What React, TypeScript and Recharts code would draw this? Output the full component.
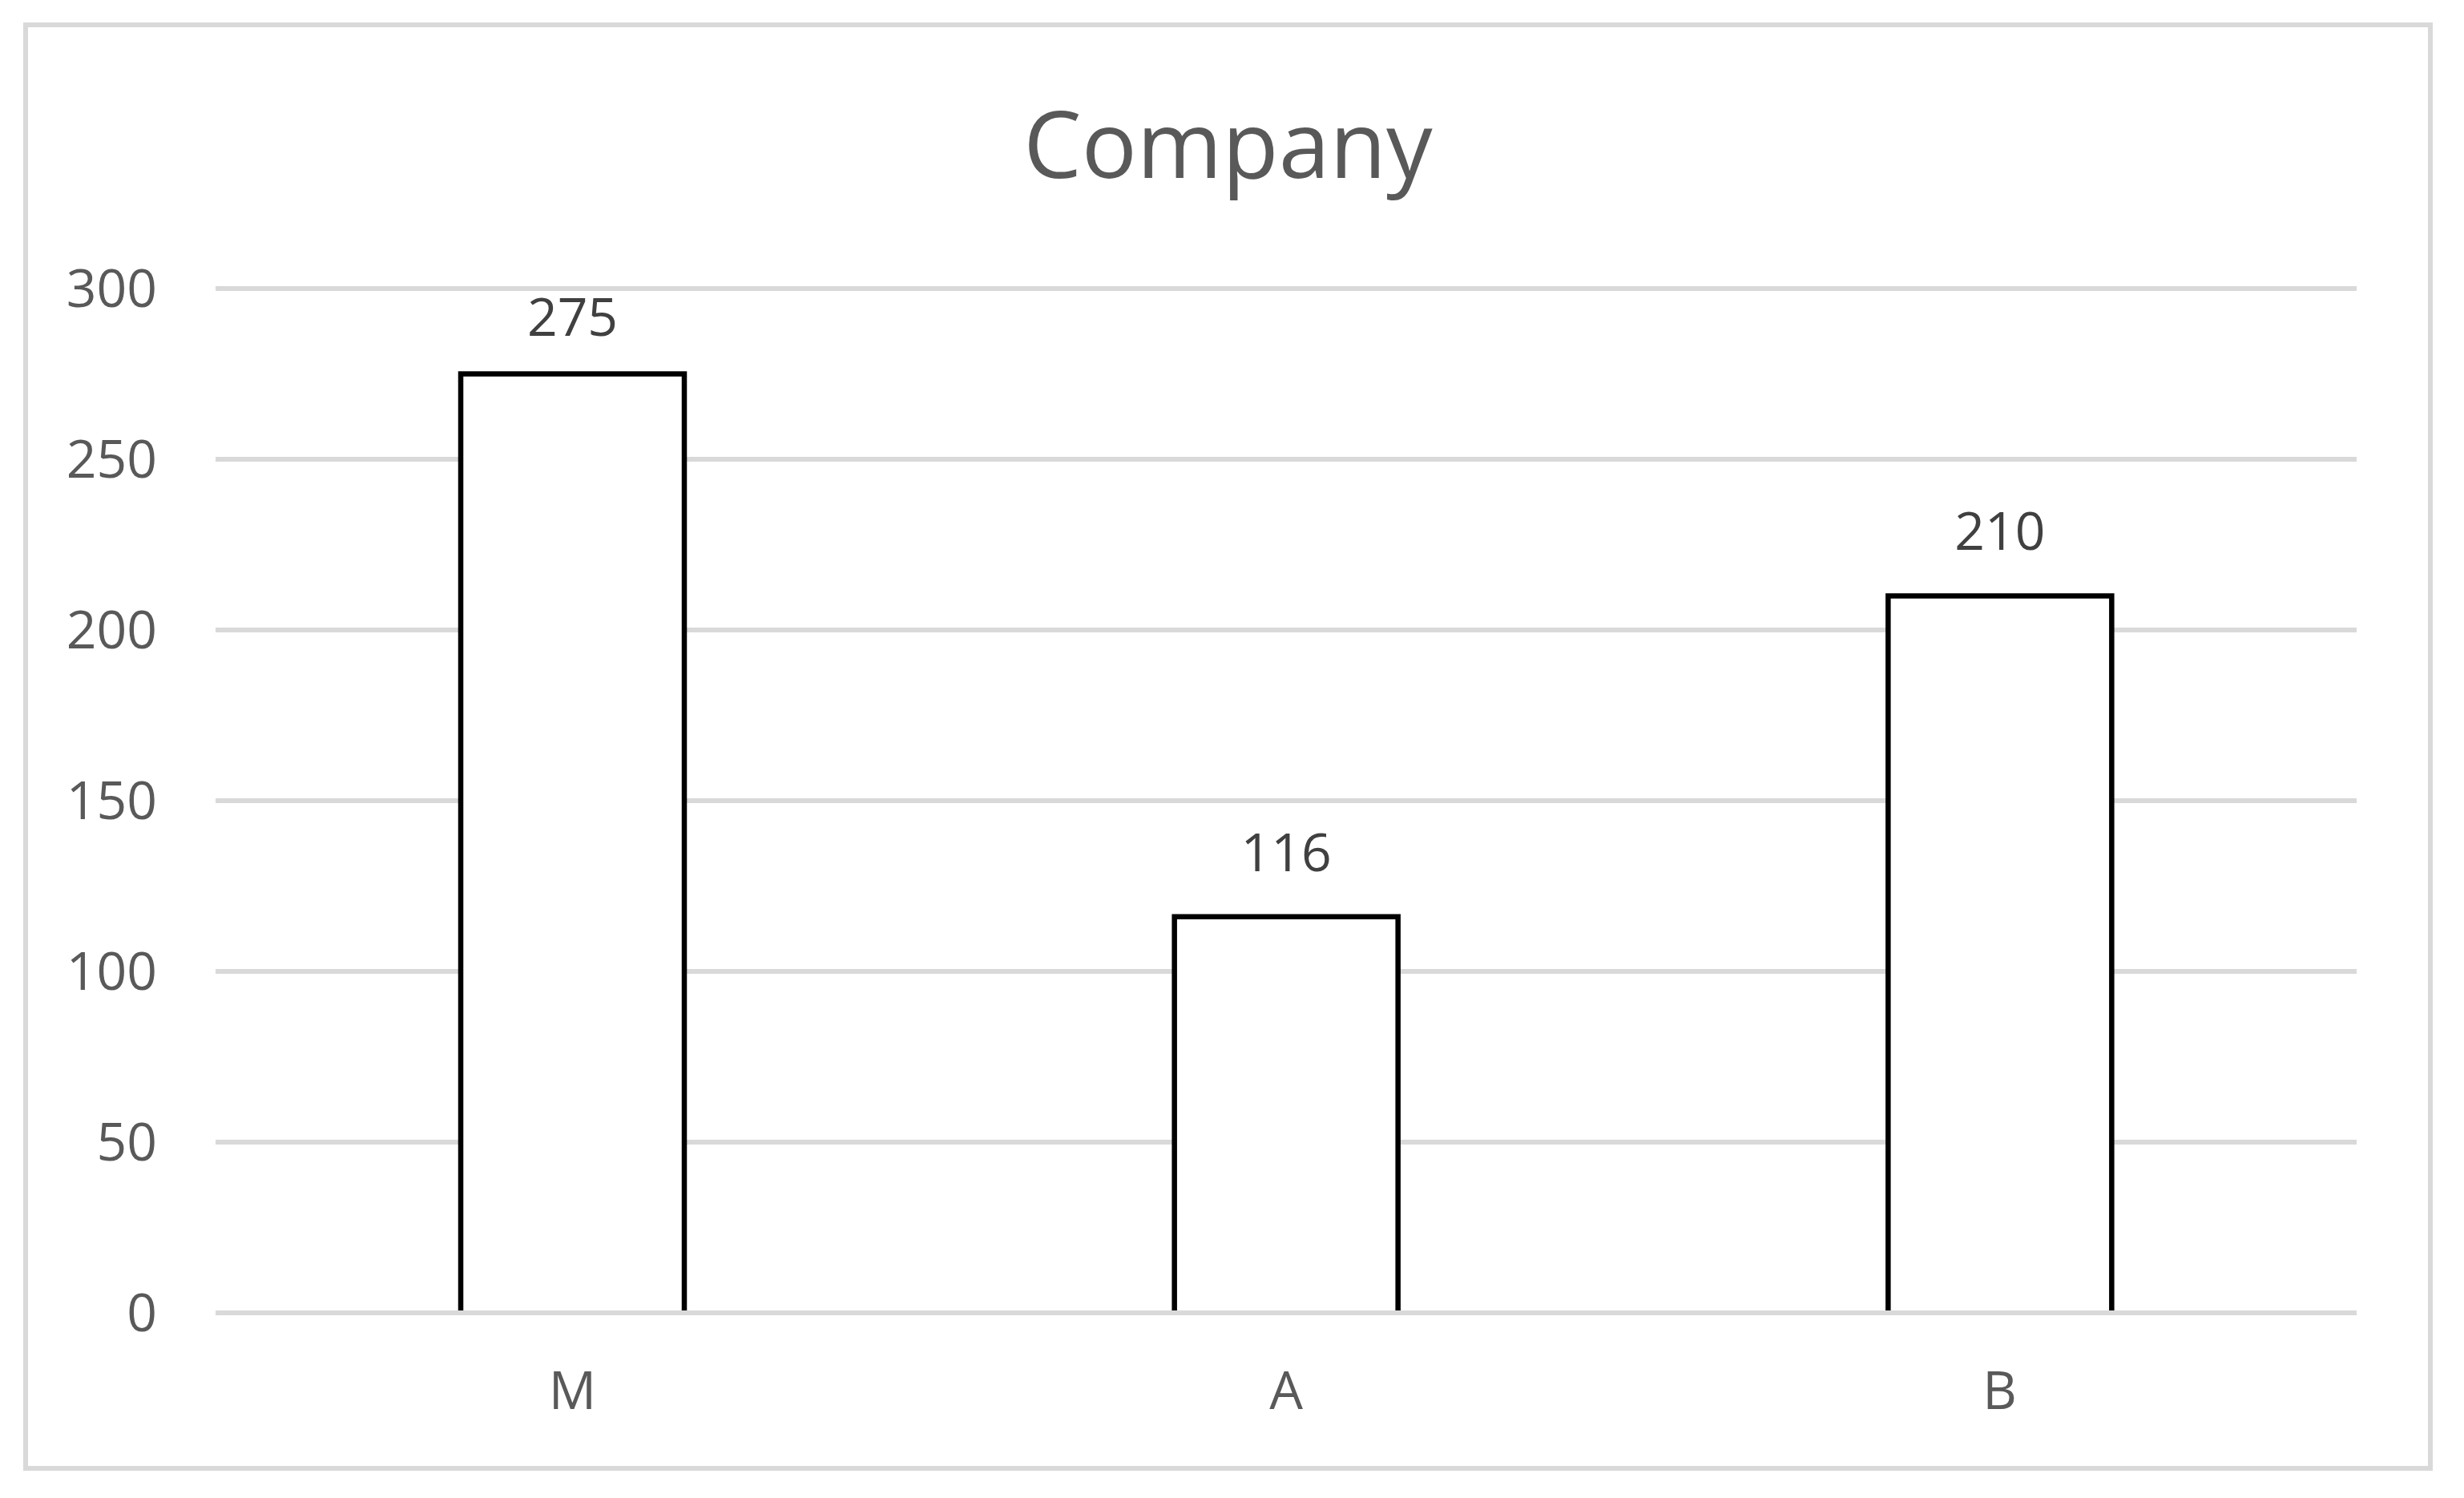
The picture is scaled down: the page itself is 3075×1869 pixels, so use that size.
import { Bar, BarChart, CartesianGrid, LabelList, ReferenceLine, XAxis, YAxis } from "recharts";

const categories = ["M", "A", "B"];
const values = [275, 116, 210];
const yTicks = [0, 50, 100, 150, 200, 250, 300];

const chartData = categories.map((name, i) => ({ name, value: values[i] }));

const FONT = '"Segoe UI", "Open Sans", "Noto Sans", sans-serif';
const PLOT_TOP = 360;

// outline bar with the bottom edge left open, the gridline at 0 closes it
function OpenBar(props: any) {
  const { x, y, width, height } = props;
  const d = `M${x},${y + height} L${x},${y} L${x + width},${y} L${x + width},${y + height}`;
  return <path d={d} fill="#ffffff" stroke="#000000" strokeWidth={6.5} />;
}

// value label above the bar, kept inside the plot area like excel does
function ValueLabel(props: any) {
  const { x, y, width, value } = props;
  const base = Math.max(y - 57, PLOT_TOP + 59);
  return (
    <text
      x={x + width / 2}
      y={base}
      textAnchor="middle"
      fill="#404040"
      fontSize={66}
      fontFamily={FONT}
    >
      {value}
    </text>
  );
}

export default function App(): JSX.Element {
  return (
    <div
      style={{
        position: "absolute",
        left: 0,
        top: 0,
        width: 3075,
        height: 1869,
        background: "#ffffff",
        fontFamily: FONT
      }}
    >
      <div
        style={{
          position: "absolute",
          left: 29,
          top: 28,
          width: 3007,
          height: 1807,
          boxSizing: "border-box",
          border: "6px solid #d9d9d9"
        }}
      />
      <div
        style={{
          position: "absolute",
          left: 29,
          top: 120,
          width: 3007,
          textAlign: "center",
          fontSize: 115,
          lineHeight: "115px",
          color: "#595959"
        }}
      >
        Company
      </div>
      <div style={{ position: "absolute", left: 0, top: 0 }}>
        <BarChart
          width={3075}
          height={1869}
          data={chartData}
          margin={{ top: PLOT_TOP, right: 134, left: 0, bottom: 131 }}
        >
          <CartesianGrid vertical={false} stroke="#d9d9d9" strokeWidth={6} />
          <XAxis
            dataKey="name"
            height={100}
            axisLine={false}
            tickLine={false}
            tickSize={0}
            tickMargin={73}
            tick={{ fill: "#595959", fontSize: 66, fontFamily: FONT }}
          />
          <YAxis
            width={269}
            domain={[0, 300]}
            ticks={yTicks}
            axisLine={false}
            tickLine={false}
            tickSize={0}
            tickMargin={73}
            tick={{ fill: "#595959", fontSize: 66, fontFamily: FONT }}
          />
          <Bar
            dataKey="value"
            fill="#ffffff"
            stroke="#000000"
            barSize={279}
            shape={OpenBar}
            isAnimationActive={false}
          >
            <LabelList dataKey="value" content={ValueLabel} />
          </Bar>
          <ReferenceLine y={0} stroke="#d9d9d9" strokeWidth={6} ifOverflow="visible" />
        </BarChart>
      </div>
    </div>
  );
}
